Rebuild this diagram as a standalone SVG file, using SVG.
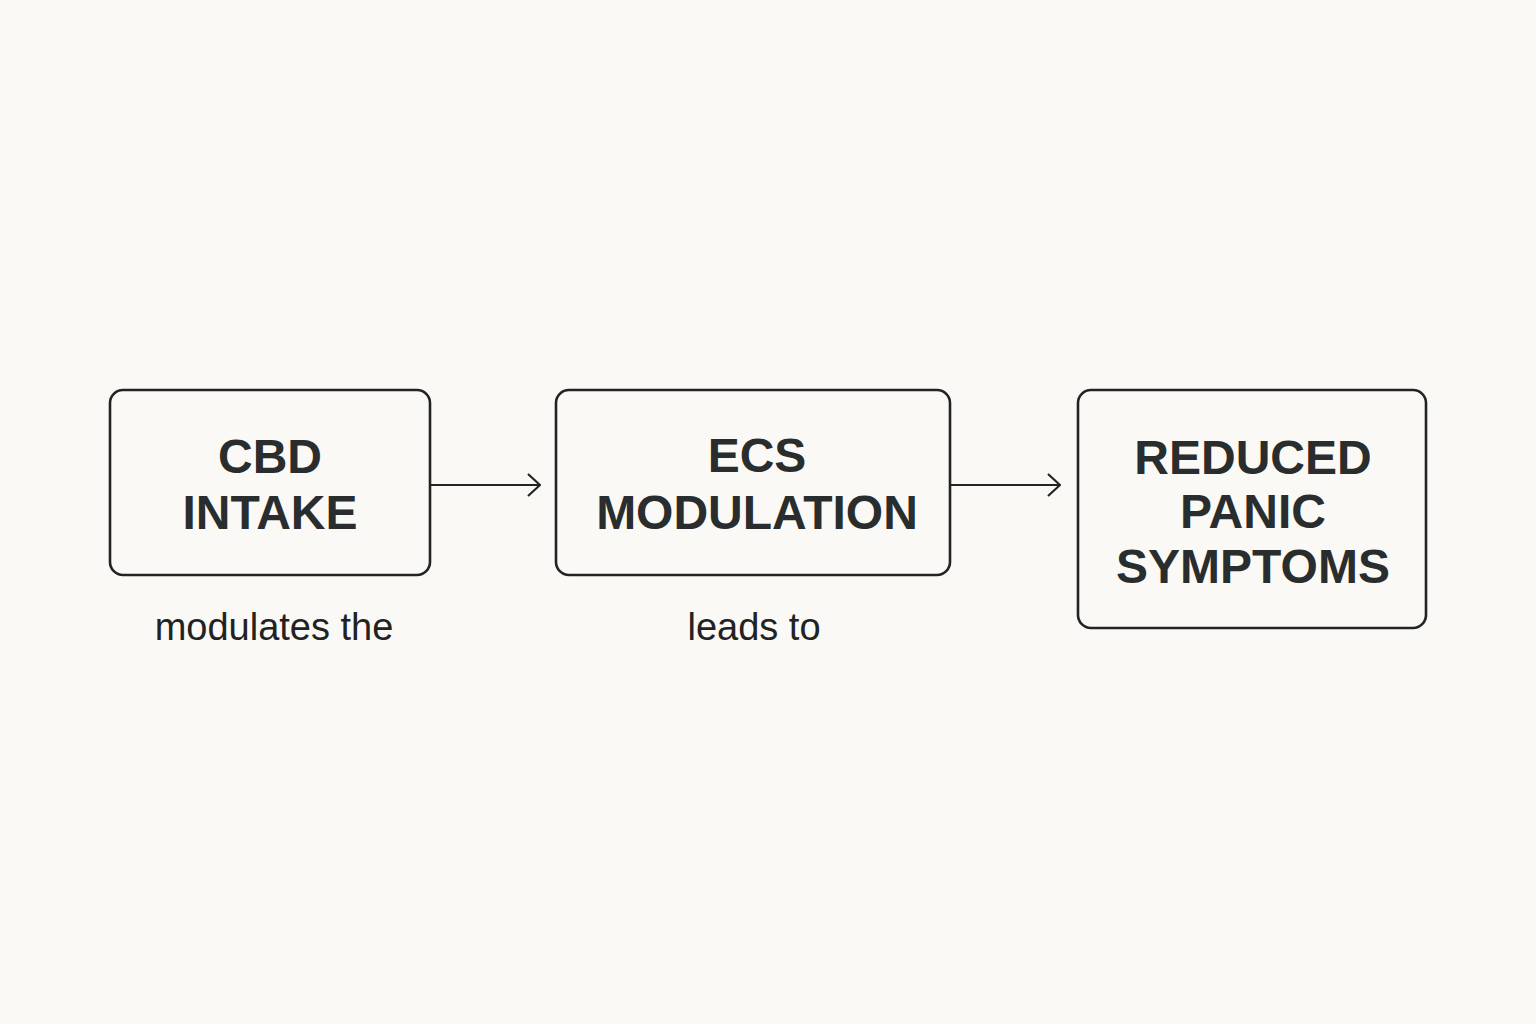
<svg xmlns="http://www.w3.org/2000/svg" width="1536" height="1024" viewBox="0 0 1536 1024">
<style>
.box{fill:none;stroke:#222424;stroke-width:2.6}
.t{font-family:"Liberation Sans",Arial,sans-serif;font-weight:700;font-size:48px;fill:#2a2d2d;text-anchor:middle}
.l{font-family:"Liberation Sans",Arial,sans-serif;font-size:38px;fill:#222;text-anchor:middle}
.c{fill:none;stroke:#222424;stroke-width:2.2}
</style>
<defs>
<marker id="ah" viewBox="0 0 14 24" refX="13" refY="12" markerWidth="14" markerHeight="24" markerUnits="userSpaceOnUse" orient="auto">
<path d="M1,1 L13,12 L1,23" fill="none" stroke="#222424" stroke-width="2.2"/>
</marker>
</defs>
<rect width="1536" height="1024" fill="#faf9f5"/>
<g id="n1">
<rect class="box" x="110" y="390" width="320" height="185" rx="13"/>
<text class="t" x="270" y="473">CBD</text>
<text class="t" x="270" y="529">INTAKE</text>
</g>
<g id="n2">
<rect class="box" x="556" y="390" width="394" height="185" rx="13"/>
<text class="t" x="757" y="472">ECS</text>
<text class="t" x="757" y="529">MODULATION</text>
</g>
<g id="n3">
<rect class="box" x="1078" y="390" width="348" height="238" rx="13"/>
<text class="t" x="1253" y="474">REDUCED</text>
<text class="t" x="1253" y="528">PANIC</text>
<text class="t" x="1253" y="583">SYMPTOMS</text>
</g>
<g id="connectors">
<line class="c" x1="431" y1="485" x2="540" y2="485" marker-end="url(#ah)"/>
<line class="c" x1="951" y1="485" x2="1060" y2="485" marker-end="url(#ah)"/>
</g>
<g id="labels">
<text class="l" x="274" y="640">modulates the</text>
<text class="l" x="754" y="640">leads to</text>
</g>
</svg>
